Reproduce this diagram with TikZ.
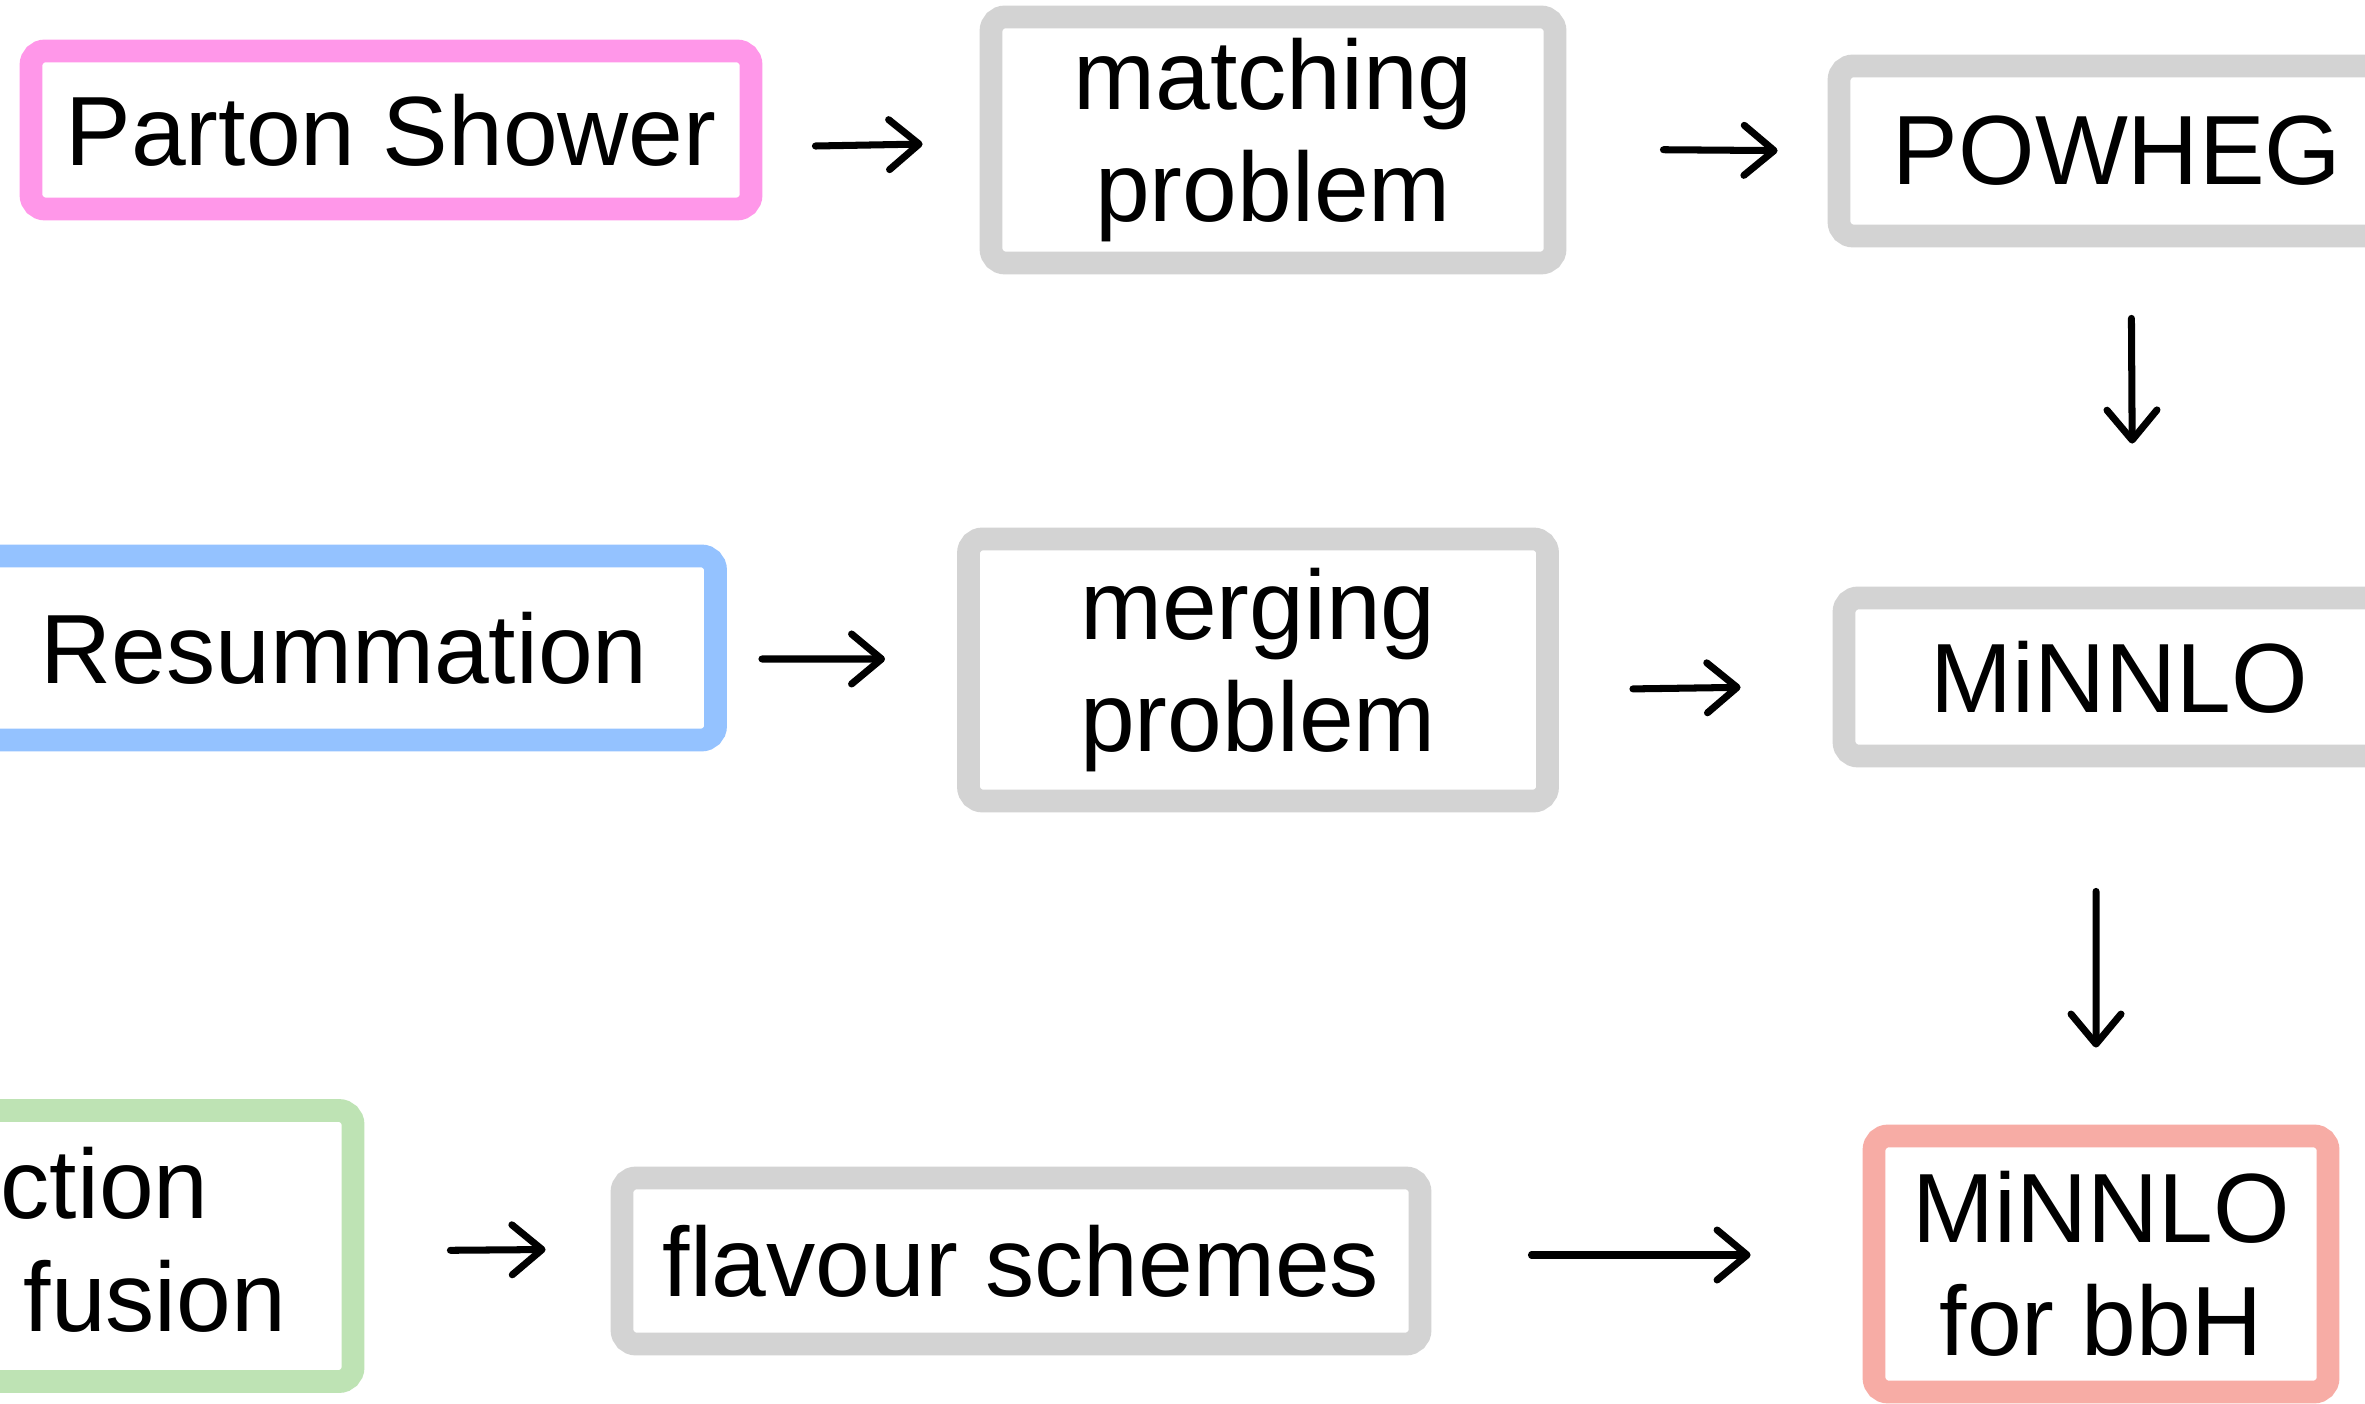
\documentclass[tikz,border=0pt]{standalone}
\usepackage{fontspec}
\setmainfont{Liberation Sans}
\usetikzlibrary{arrows.meta, positioning}
\definecolor{pinkbox}{HTML}{FF97E9}
\definecolor{bluebox}{HTML}{94C2FF}
\definecolor{greenbox}{HTML}{BEE3B4}
\definecolor{salmonbox}{HTML}{F7ACA5}
\definecolor{graybox}{HTML}{D3D3D3}

\begin{document}
\begin{tikzpicture}[>={Straight Barb[length=3mm, width=5mm, round]},
  box/.style={draw=#1, line width=6.5pt, rounded corners=4pt, inner sep=0pt,
    align=center, text=black, font=\fontsize{28}{32}\selectfont},
  flow/.style={->, line width=2pt, line cap=round}]

% Canvas
\useasboundingbox (0,0) rectangle (23.65,14.03);
\clip (0,0) rectangle (23.65,14.03);
\fill[white] (0,0) rectangle (23.65,14.03);

% Top row
\node[box=pinkbox, minimum width=7.20cm, minimum height=1.58cm] (shower) at (3.91,12.73) {Parton Shower};
\node[box=graybox, minimum width=5.64cm, minimum height=2.46cm] (matching) at (12.73,12.63) {matching\\problem};
\node[box=graybox, minimum width=5.56cm, minimum height=1.70cm] (powheg) at (21.17,12.52) {POWHEG};

% Middle row
\node[box=bluebox, minimum width=7.43cm, minimum height=1.84cm] (resum) at (3.44,7.55) {Resummation};
\node[box=graybox, minimum width=5.79cm, minimum height=2.62cm] (merging) at (12.58,7.33) {merging\\problem};
\node[box=graybox, minimum width=5.50cm, minimum height=1.58cm] (minnlo) at (21.19,7.26) {MiNNLO};

% Bottom row
\node[box=greenbox, minimum width=5.76cm, minimum height=2.71cm] (fusion) at (0.65,1.57) {};
\node[text=black, font=\fontsize{28}{32}\selectfont, align=left, anchor=west, inner sep=0pt]
  (fusionlbl) at (0.23,1.63) {\hspace*{-0.23cm}ction\\fusion};
\node[box=graybox, minimum width=7.98cm, minimum height=1.66cm] (flavour) at (10.21,1.42) {flavour schemes};
\node[box=salmonbox, minimum width=4.54cm, minimum height=2.56cm] (bbh) at (21.01,1.39) {MiNNLO\\for bbH};

% Arrows
\draw[flow, shorten <=0.53cm, shorten >=0.57cm] ([yshift=-0.17cm]shower.east) -- ([yshift=-0.03cm]matching.west);
\draw[flow, shorten <=0.97cm, shorten >=0.50cm] ([yshift=-0.09cm]matching.east) -- (powheg.west);
\draw[flow, shorten <=0.71cm, shorten >=1.43cm] ([xshift=0.14cm]powheg.south) -- ([xshift=0.14cm]minnlo.north);
\draw[flow, shorten <=0.35cm, shorten >=0.72cm] ([yshift=-0.11cm]resum.east) -- ([yshift=0.11cm]merging.west);
\draw[flow, shorten <=0.74cm, shorten >=0.92cm] ([yshift=-0.20cm]merging.east) -- ([yshift=-0.09cm]minnlo.west);
\draw[flow, shorten <=1.24cm, shorten >=0.77cm] ([xshift=-0.23cm]minnlo.south) -- ([xshift=-0.05cm]bbh.north);
\draw[flow, shorten <=0.86cm, shorten >=0.65cm] ([yshift=-0.05cm]fusion.east) -- ([yshift=0.12cm]flavour.west);
\draw[flow, shorten <=1.00cm, shorten >=1.12cm] ([yshift=0.06cm]flavour.east) -- ([yshift=0.09cm]bbh.west);

\end{tikzpicture}
\end{document}
